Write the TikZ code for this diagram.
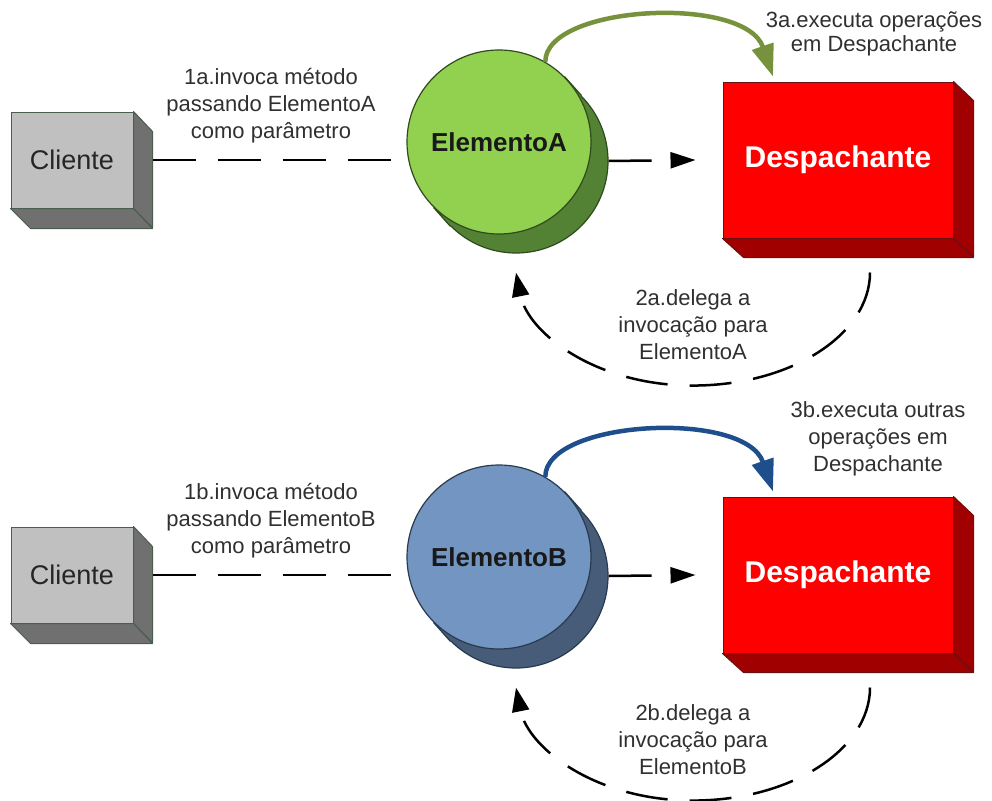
\documentclass[tikz,border=0pt]{standalone}
\usepackage{fontspec}
\setmainfont{Liberation Sans}
\usetikzlibrary{arrows.meta,calc}
\definecolor{labelc}{HTML}{303030}
\definecolor{clif}{HTML}{C0C0C0}
\definecolor{clis}{HTML}{707070}
\definecolor{clib}{HTML}{4A5E50}
\definecolor{desf}{HTML}{FF0000}
\definecolor{dess}{HTML}{A00000}
\definecolor{desb}{HTML}{6B1010}
\definecolor{gfront}{HTML}{92D050}
\definecolor{gshadow}{HTML}{548235}
\definecolor{gborder}{HTML}{2F4A1C}
\definecolor{garrow}{HTML}{76923C}
\definecolor{bfront}{HTML}{7395C2}
\definecolor{bshadow}{HTML}{475C78}
\definecolor{bborder}{HTML}{2A3A4E}
\definecolor{barrow}{HTML}{1F4E8C}
\begin{document}
\begin{tikzpicture}[x=1pt,y=-1pt,
  lbl/.style={align=center, text=labelc, font=\fontsize{22}{27}\selectfont, inner sep=0pt},
  clibox/.style={draw=clib, fill=clif, line width=1pt, minimum width=122pt, minimum height=96pt, inner sep=0pt, font=\fontsize{27}{30}\selectfont, text=black!85},
  cliside/.style={draw=clib, fill=clis, line width=1pt, line join=round},
  desbox/.style={draw=desb, fill=desf, line width=1pt, minimum width=230pt, minimum height=156pt, inner sep=0pt, font=\bfseries\fontsize{30}{34}\selectfont, text=white},
  desside/.style={draw=desb, fill=dess, line width=1pt, line join=round},
  elem/.style={circle, line width=1.2pt, minimum size=184pt, inner sep=0pt, font=\bfseries\fontsize{26}{30}\selectfont, text=black!90},
  flow/.style={line width=2.5pt, dash pattern=on 43pt off 22pt},
  callarrow/.style={flow, -{Triangle[length=25pt,width=16pt]}},
  backarrow/.style={line width=2.5pt, dash pattern=on 42pt off 22pt, -{Triangle[length=24pt,width=17pt]}},
  execarrow/.style={line width=4.5pt, -{Triangle[length=32pt,width=22pt]}}
]
\useasboundingbox (0,0) rectangle (992,800);

% ================= panel A =================
\node[clibox] (cliA) at (72,160) {Cliente};
\draw[cliside] (cliA.north east) -- ++(19,20) -- ++(0,96) -- (cliA.south east) -- cycle;
\draw[cliside] (cliA.south west) -- (cliA.south east) -- ++(19,20) -- ++(-122,0) -- cycle;

\node[desbox] (desA) at (838,160) {Despachante};
\draw[desside] (desA.north east) -- ++(20,19) -- ++(0,156) -- (desA.south east) -- cycle;
\draw[desside] (desA.south west) -- (desA.south east) -- ++(20,19) -- ++(-230,0) -- cycle;

\node[elem, fill=gshadow, draw=gborder] (elAs) at (516,161) {};
\fill[gshadow] (elAs.45) -- (elAs.225) -- ([shift={(-17,-19)}]elAs.225) -- ([shift={(-17,-19)}]elAs.45) -- cycle;
\draw[gborder, line width=1.2pt] (elAs.45) -- ++(-17,-19) (elAs.225) -- ++(-17,-19);
\node[elem, fill=gfront, draw=gborder] (elA) at (499,142) {ElementoA};

\draw[flow] ([xshift=19pt]cliA.east) -- (cliA.east -| elA.west);
\draw[callarrow] (elAs.east) -- ([xshift=-27pt]desA.west);
\draw[execarrow, garrow] (elA.60) .. controls +(0,-57) and +(-28,-82) .. ([shift={(-65,-5)}]desA.north) coordinate (exA);
\coordinate (bsA) at ([shift={(32,34)}]desA.south);
\coordinate (beA) at ([shift={(0,19)}]elAs.south);
\coordinate (bmA) at ($(bsA)!0.5!(beA)+(0,113)$);
\draw[backarrow] (bsA) .. controls +(0,62) and +(98,0) .. (bmA) .. controls +(-98,0) and +(12,60) .. (beA);

\node[lbl] (lab1a) at (271,106) {1a.invoca método\\passando ElementoA\\como parâmetro};
\node[lbl, font=\fontsize{22}{24}\selectfont] (lab3a) at (874,34) {3a.executa operações\\em Despachante};
\node[lbl] (lab2a) at (693,325) {2a.delega a\\invocação para\\ElementoA};

% ================= panel B =================
\begin{scope}[yshift=-415pt]
\node[clibox] (cliB) at (72,160) {Cliente};
\draw[cliside] (cliB.north east) -- ++(19,20) -- ++(0,96) -- (cliB.south east) -- cycle;
\draw[cliside] (cliB.south west) -- (cliB.south east) -- ++(19,20) -- ++(-122,0) -- cycle;

\node[desbox] (desB) at (838,160) {Despachante};
\draw[desside] (desB.north east) -- ++(20,19) -- ++(0,156) -- (desB.south east) -- cycle;
\draw[desside] (desB.south west) -- (desB.south east) -- ++(20,19) -- ++(-230,0) -- cycle;

\node[elem, fill=bshadow, draw=bborder] (elBs) at (516,161) {};
\fill[bshadow] (elBs.45) -- (elBs.225) -- ([shift={(-17,-19)}]elBs.225) -- ([shift={(-17,-19)}]elBs.45) -- cycle;
\draw[bborder, line width=1.2pt] (elBs.45) -- ++(-17,-19) (elBs.225) -- ++(-17,-19);
\node[elem, fill=bfront, draw=bborder] (elB) at (499,142) {ElementoB};

\draw[flow] ([xshift=19pt]cliB.east) -- (cliB.east -| elB.west);
\draw[callarrow] (elBs.east) -- ([xshift=-27pt]desB.west);
\draw[execarrow, barrow] (elB.60) .. controls +(0,-57) and +(-28,-82) .. ([shift={(-65,-5)}]desB.north) coordinate (exB);
\coordinate (bsB) at ([shift={(32,34)}]desB.south);
\coordinate (beB) at ([shift={(0,19)}]elBs.south);
\coordinate (bmB) at ($(bsB)!0.5!(beB)+(0,113)$);
\draw[backarrow] (bsB) .. controls +(0,62) and +(98,0) .. (bmB) .. controls +(-98,0) and +(12,60) .. (beB);

\node[lbl] (lab1b) at (271,106) {1b.invoca método\\passando ElementoB\\como parâmetro};
\node[lbl] (lab3b) at (878,24) {3b.executa outras\\operações em\\Despachante};
\node[lbl] (lab2b) at (693,325) {2b.delega a\\invocação para\\ElementoB};
\end{scope}
\end{tikzpicture}
\end{document}
